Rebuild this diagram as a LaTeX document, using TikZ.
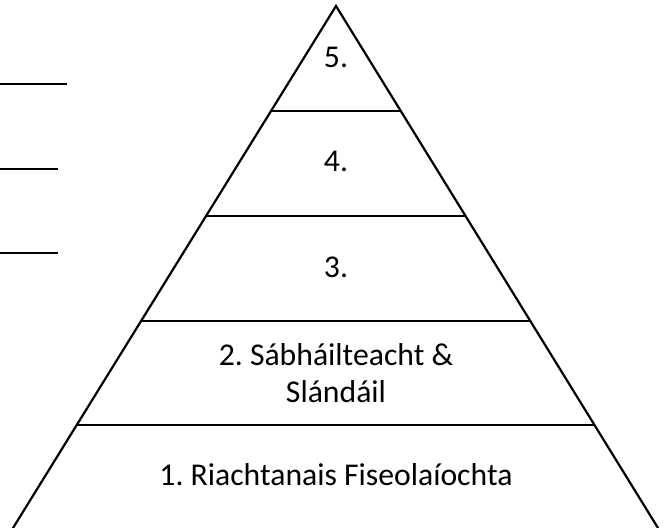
\documentclass[tikz,border=0pt]{standalone}
\usepackage{fontspec}
\setmainfont{Carlito}
\usetikzlibrary{calc}
\frenchspacing
\tikzset{
  side/.style={line width=2.2bp, line cap=round},
  tier/.style={line width=2.8bp},
  blank/.style={line width=1.8bp},
  lbl/.style={anchor=base, inner sep=0pt, font=\fontsize{31.7bp}{37bp}\selectfont, align=center}
}
\begin{document}
\begin{tikzpicture}[x=1bp,y=-1bp]
\useasboundingbox (0,0) rectangle (667,528);
\clip (0,0) rectangle (667,528);
\coordinate (apex) at (336,6);
\coordinate (bl) at (13,528);
\coordinate (br) at (658,528);
\draw[side] (bl) -- (apex) -- (br);
\foreach \t/\n in {0.2011/a,0.4023/b,0.6034/c,0.8027/d}{
  \coordinate (L\n) at ($(apex)!\t!(bl)$);
  \coordinate (R\n) at ($(apex)!\t!(br)$);
  \draw[tier] (L\n) -- (R\n);
}
% blank answer lines on the left
\coordinate (b1s) at (0,84);  \coordinate (b1e) at (67,84);
\coordinate (b2s) at (0,169); \coordinate (b2e) at (58,169);
\coordinate (b3s) at (0,253); \coordinate (b3e) at (58,253);
\draw[blank] (b1s) -- (b1e);
\draw[blank] (b2s) -- (b2e);
\draw[blank] (b3s) -- (b3e);
% labels
\node[lbl] (t5) at (336,68) {5.};
\node[lbl] (t4) at (336,172) {4.};
\node[lbl] (t3) at (336,277) {3.};
\node[lbl] (t2a) at (336,365) {2. Sábháilteacht \&};
\node[lbl] (t2b) at (336,402) {Slándáil};
\node[lbl] (t1) at (336,485) {1. Riachtanais Fiseolaíochta};
\end{tikzpicture}
\end{document}
